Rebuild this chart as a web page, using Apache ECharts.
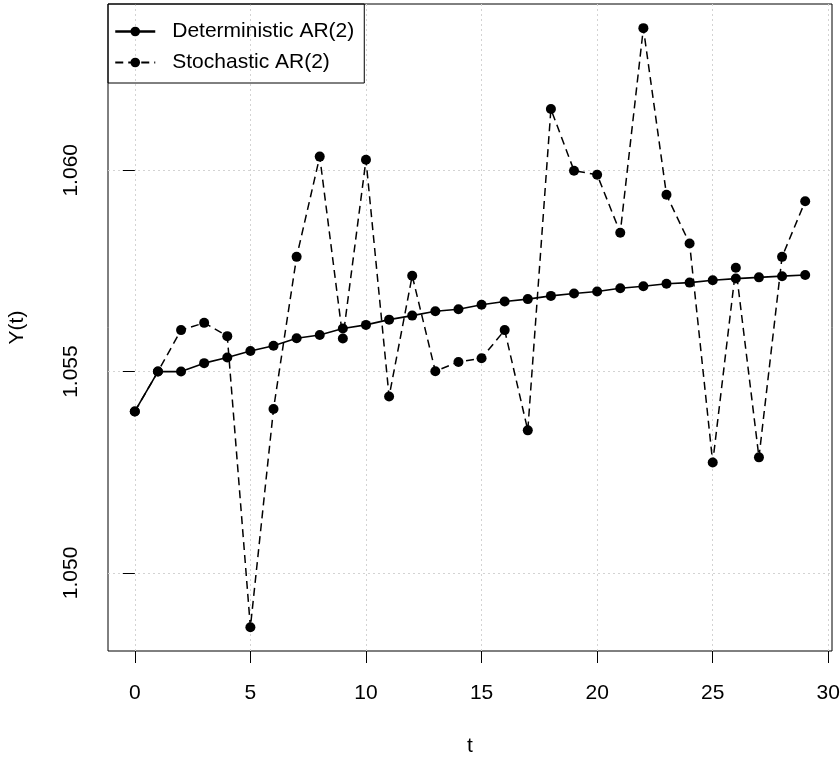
<!DOCTYPE html>
<html>
<head>
<meta charset="utf-8">
<script src="https://cdn.jsdelivr.net/npm/echarts@6/dist/echarts.min.js"></script>
<style>
  html, body { margin: 0; padding: 0; background: #fff; }
  #chart { width: 840px; height: 758px; }
</style>
</head>
<body>
<div id="chart"></div>
<script>
// Time index
const t = [0,1,2,3,4,5,6,7,8,9,10,11,12,13,14,15,16,17,18,19,20,21,22,23,24,25,26,27,28,29];

// Deterministic AR(2) path (no shocks)
const deterministic = [
  1.05401, 1.05500, 1.05500, 1.05521, 1.05535, 1.05551, 1.05564, 1.05583, 1.05591, 1.05607,
  1.05616, 1.05629, 1.05639, 1.05650, 1.05655, 1.05666, 1.05674, 1.05680, 1.05688, 1.05694,
  1.05699, 1.05707, 1.05712, 1.05718, 1.05721, 1.05727, 1.05731, 1.05734, 1.05737, 1.05740
];

// Stochastic AR(2) path (with shocks)
const stochastic = [
  1.05401, 1.05500, 1.05603, 1.05621, 1.05588, 1.04865, 1.05407, 1.05785, 1.06034, 1.05582,
  1.06026, 1.05438, 1.05738, 1.05501, 1.05524, 1.05533, 1.05603, 1.05354, 1.06152, 1.05999,
  1.05989, 1.05845, 1.06353, 1.05939, 1.05818, 1.05274, 1.05758, 1.05287, 1.05785, 1.05923
];

// Axis ticks
const xTicks = [0, 5, 10, 15, 20, 25, 30];
const yTicks = [1.050, 1.055, 1.060];

const seriesNames = ['Deterministic AR(2)', 'Stochastic AR(2)'];

const FONT = '"Liberation Sans", Arial, Helvetica, sans-serif';
const chart = echarts.init(document.getElementById('chart'), null, { renderer: 'canvas' });

const pairs = (ys) => t.map((x, i) => [x, ys[i]]);
const gridLine = { show: true, lineStyle: { color: '#d3d3d3', type: [2, 3], width: 1 } };

chart.setOption({
  animation: false,
  backgroundColor: '#ffffff',
  textStyle: { fontFamily: FONT },
  grid: {
    left: 108, right: 8, top: 4, bottom: 107,
    containLabel: false,
    outerBoundsMode: 'none',
    show: true, borderColor: '#000', borderWidth: 1, backgroundColor: 'transparent'
  },
  legend: {
    orient: 'vertical',
    left: 108, top: 4,
    padding: [17, 10, 10, 6],
    itemGap: 10,
    itemWidth: 40,
    itemHeight: 12,
    borderColor: '#000',
    borderWidth: 1,
    borderRadius: 0,
    backgroundColor: 'transparent',
    textStyle: { fontFamily: FONT, fontSize: 21, color: '#000', padding: [0, 0, 0, 12] },
    data: [
      { name: seriesNames[0], lineStyle: { width: 2.5 } },
      { name: seriesNames[1] }
    ]
  },
  xAxis: {
    type: 'value',
    min: -1.16, max: 30.16,
    name: 't',
    nameLocation: 'middle',
    nameGap: 85,
    nameTextStyle: { fontFamily: FONT, fontSize: 21, color: '#000' },
    axisLine: { show: false },
    axisTick: { show: true, customValues: xTicks, length: 12, lineStyle: { color: '#000', width: 1 } },
    axisLabel: { customValues: xTicks, margin: 32, fontFamily: FONT, fontSize: 21, color: '#000' },
    splitLine: gridLine
  },
  yAxis: {
    type: 'value',
    min: 1.04806, max: 1.06413,
    name: 'Y(t)',
    nameLocation: 'middle',
    nameGap: 80,
    nameRotate: 90,
    nameTextStyle: { fontFamily: FONT, fontSize: 21, color: '#000' },
    axisLine: { show: false },
    axisTick: { show: true, customValues: yTicks, length: 12, lineStyle: { color: '#000', width: 1 } },
    axisLabel: {
      customValues: yTicks, rotate: 90, margin: 26,
      fontFamily: FONT, fontSize: 21, color: '#000',
      formatter: (v) => v.toFixed(3)
    },
    splitLine: gridLine
  },
  series: [
    {
      name: seriesNames[0],
      type: 'line',
      data: pairs(deterministic),
      symbol: 'circle',
      symbolSize: 10,
      itemStyle: { color: '#000' },
      lineStyle: { color: '#000', width: 1.6, type: 'solid' },
      z: 3
    },
    {
      name: seriesNames[1],
      type: 'line',
      data: pairs(stochastic),
      symbol: 'circle',
      symbolSize: 10,
      itemStyle: { color: '#000' },
      lineStyle: { color: '#000', width: 1.5, type: [8, 5] },
      z: 4
    }
  ]
});
</script>
</body>
</html>
